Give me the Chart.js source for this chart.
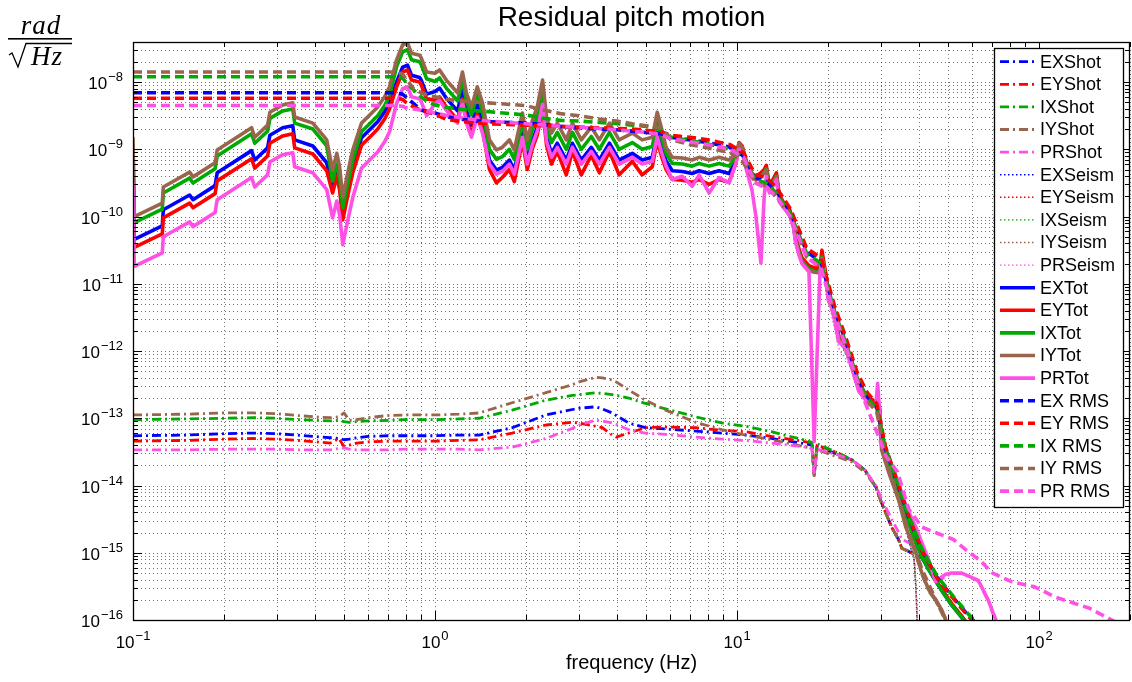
<!DOCTYPE html>
<html>
<head>
<meta charset="utf-8">
<title>Residual pitch motion</title>
<script src="https://cdn.jsdelivr.net/npm/chart.js@4.4.1/dist/chart.umd.min.js"></script>
<style>
  body { margin: 0; background: #fff; }
  canvas { display: block; }
</style>
</head>
<body>
<canvas id="pitchChart" width="1132" height="682"></canvas>
<script>
// ---- data (frequency in Hz, values in rad/sqrt(Hz)) ----
const freqTot = [0.100, 0.101, 0.125, 0.126, 0.154, 0.158, 0.187, 0.190, 0.247, 0.253,
  0.279, 0.284, 0.313, 0.338, 0.343, 0.394, 0.438, 0.458, 0.473, 0.483,
  0.495, 0.514, 0.534, 0.571, 0.617, 0.646, 0.681, 0.707, 0.746, 0.781,
  0.811, 0.836, 0.889, 0.900, 0.938, 1.00, 1.035, 1.09, 1.14, 1.187,
  1.233, 1.27, 1.32, 1.38, 1.436, 1.514, 1.597, 1.67, 1.763, 1.83,
  1.947, 2.02, 2.10, 2.18, 2.27, 2.34, 2.43, 2.54, 2.72, 2.85,
  3.05, 3.29, 3.50, 3.78, 4.07, 4.50, 4.85, 5.24, 5.44, 5.61,
  5.82, 6.10, 6.58, 7.10, 7.49, 8.08, 8.72, 9.41, 9.92, 10.15,
  10.4, 10.8, 11.2, 11.55, 12.0, 12.3, 12.5, 12.8, 13.5, 13.8,
  14.3, 14.9, 15.4, 15.6, 16.0, 16.4, 16.9, 17.3, 18.0, 18.8,
  19.1, 19.7, 20.1, 20.6, 21.2, 21.7, 22.9, 24.0, 25.3, 27.3,
  28.8, 29.2, 29.6, 30.1, 31.8, 34.3, 36.2, 39.1, 40.9, 43.1,
  45.5, 47.6, 49.1, 51.4, 55.2, 58.0, 62.9, 67.8, 71.9, 76.0];

const exTot = [6.92e-10, 4.57e-11, 7.24e-11, 1.26e-10, 2.09e-10, 1.78e-10, 2.88e-10, 4.47e-10, 9.55e-10, 6.92e-10,
  1.05e-9, 1.62e-9, 2.09e-9, 2.24e-9, 1.38e-9, 1.12e-9, 6.31e-10, 2.63e-10, 4.68e-10, 2.95e-10,
  1.05e-10, 2.4e-10, 5.25e-10, 1.48e-9, 2.09e-9, 2.57e-9, 3.63e-9, 5.13e-9, 1.0e-8, 1.66e-8,
  1.78e-8, 1.26e-8, 1.17e-8, 1.07e-8, 6.61e-9, 7.24e-9, 8.13e-9, 5.75e-9, 4.57e-9, 3.72e-9,
  7.59e-9, 3.72e-9, 2.29e-9, 4.57e-9, 2.63e-9, 6.92e-10, 4.9e-10, 5.37e-10, 6.92e-10, 4.9e-10,
  1.74e-9, 6.92e-10, 1.35e-9, 2.14e-9, 5.37e-9, 1.51e-9, 8.71e-10, 1.23e-9, 6.92e-10, 1.23e-9,
  6.92e-10, 1.07e-9, 6.92e-10, 1.23e-9, 6.92e-10, 8.71e-10, 6.92e-10, 7.59e-10, 1.78e-9, 1.07e-9,
  6.76e-10, 4.79e-10, 4.68e-10, 4.37e-10, 4.79e-10, 4.37e-10, 4.79e-10, 4.37e-10, 6.92e-10, 1.07e-9,
  9.55e-10, 5.37e-10, 3.98e-10, 3.55e-10, 4.17e-10, 4.68e-10, 5.25e-10, 2.63e-10, 4.07e-10, 1.91e-10,
  1.48e-10, 1.2e-10, 7.41e-11, 4.79e-11, 3.09e-11, 2.24e-11, 1.91e-11, 1.7e-11, 1.58e-11, 1.55e-11,
  2.57e-11, 1.23e-11, 6.17e-12, 4.79e-12, 2.82e-12, 1.55e-12, 1.23e-12, 6.17e-13, 2.82e-13, 1.82e-13,
  1.58e-13, 1.51e-13, 1.41e-13, 5.01e-14, 2.24e-14, 8.32e-15, 3.55e-15, 1.41e-15, 8.91e-16, 5.62e-16,
  3.8e-16, 2.75e-16, 2.24e-16, 1.66e-16, 1.12e-16, 8.32e-17, 5.01e-17, 3.16e-17, 2.0e-17, 1.26e-17];

const eyTot = [5.25e-10, 3.47e-11, 5.5e-11, 9.55e-11, 1.58e-10, 1.35e-10, 2.19e-10, 3.39e-10, 7.24e-10, 5.25e-10,
  7.94e-10, 1.23e-9, 1.58e-9, 1.7e-9, 1.05e-9, 8.51e-10, 4.79e-10, 2.24e-10, 3.98e-10, 2.51e-10,
  8.91e-11, 2.04e-10, 4.47e-10, 1.15e-9, 1.62e-9, 2.0e-9, 2.82e-9, 3.98e-9, 8.51e-9, 1.41e-8,
  1.51e-8, 1.07e-8, 1.0e-8, 9.12e-9, 5.62e-9, 5.37e-9, 6.03e-9, 4.27e-9, 3.39e-9, 2.75e-9,
  5.62e-9, 2.75e-9, 1.7e-9, 3.39e-9, 1.95e-9, 5.01e-10, 3.16e-10, 3.8e-10, 5.01e-10, 3.31e-10,
  1.32e-9, 5.01e-10, 1.02e-9, 1.62e-9, 4.07e-9, 1.15e-9, 6.03e-10, 9.33e-10, 4.17e-10, 9.33e-10,
  4.17e-10, 8.13e-10, 4.47e-10, 9.33e-10, 4.17e-10, 6.61e-10, 4.17e-10, 5.5e-10, 1.35e-9, 8.13e-10,
  5.01e-10, 3.55e-10, 3.47e-10, 3.24e-10, 3.55e-10, 3.02e-10, 3.55e-10, 3.24e-10, 6.31e-10, 1.26e-9,
  1.12e-9, 6.03e-10, 4.37e-10, 3.98e-10, 4.47e-10, 5.01e-10, 5.75e-10, 2.82e-10, 4.47e-10, 2.09e-10,
  1.58e-10, 1.32e-10, 8.13e-11, 5.25e-11, 3.39e-11, 2.45e-11, 2.09e-11, 1.86e-11, 1.74e-11, 1.7e-11,
  3.16e-11, 1.35e-11, 6.76e-12, 5.25e-12, 3.09e-12, 1.7e-12, 1.35e-12, 6.76e-13, 3.09e-13, 2.0e-13,
  1.74e-13, 1.66e-13, 1.51e-13, 5.25e-14, 2.4e-14, 8.91e-15, 3.8e-15, 1.51e-15, 9.55e-16, 6.03e-16,
  3.98e-16, 2.88e-16, 2.34e-16, 1.74e-16, 1.17e-16, 8.71e-17, 5.01e-17, 3.16e-17, 2.0e-17, 1.26e-17];

const ixTot = [1.23e-9, 8.13e-11, 1.29e-10, 2.24e-10, 3.72e-10, 3.16e-10, 5.13e-10, 7.94e-10, 1.7e-9, 1.23e-9,
  1.86e-9, 2.88e-9, 3.72e-9, 3.98e-9, 2.45e-9, 2.0e-9, 1.12e-9, 3.39e-10, 6.03e-10, 3.8e-10,
  1.35e-10, 3.09e-10, 6.76e-10, 1.82e-9, 2.57e-9, 3.16e-9, 4.47e-9, 6.31e-9, 1.7e-8, 2.82e-8,
  3.02e-8, 2.14e-8, 2.0e-8, 1.82e-8, 1.12e-8, 1.02e-8, 1.15e-8, 8.13e-9, 6.46e-9, 5.25e-9,
  1.07e-8, 5.25e-9, 3.24e-9, 6.46e-9, 3.72e-9, 1.0e-9, 7.08e-10, 7.76e-10, 1.0e-9, 7.08e-10,
  2.51e-9, 1.0e-9, 1.95e-9, 3.09e-9, 7.76e-9, 2.19e-9, 1.26e-9, 1.78e-9, 1.0e-9, 1.78e-9,
  1.0e-9, 1.55e-9, 1.0e-9, 1.78e-9, 1.0e-9, 1.26e-9, 1.0e-9, 1.1e-9, 2.57e-9, 1.55e-9,
  8.71e-10, 6.17e-10, 6.03e-10, 5.62e-10, 6.17e-10, 5.62e-10, 6.17e-10, 5.62e-10, 7.76e-10, 1.15e-9,
  1.0e-9, 5.5e-10, 3.98e-10, 3.55e-10, 3.98e-10, 4.57e-10, 5.13e-10, 2.57e-10, 3.98e-10, 1.86e-10,
  1.45e-10, 1.17e-10, 7.24e-11, 4.68e-11, 3.02e-11, 2.19e-11, 1.86e-11, 1.66e-11, 1.55e-11, 1.51e-11,
  2.51e-11, 1.2e-11, 6.03e-12, 4.68e-12, 2.75e-12, 1.51e-12, 1.2e-12, 6.03e-13, 2.75e-13, 1.78e-13,
  1.55e-13, 1.48e-13, 1.38e-13, 5.01e-14, 2.24e-14, 8.32e-15, 3.55e-15, 1.41e-15, 8.91e-16, 5.62e-16,
  3.8e-16, 2.75e-16, 2.24e-16, 1.66e-16, 1.12e-16, 8.32e-17, 5.01e-17, 3.16e-17, 2.0e-17, 1.26e-17];

const iyTot = [1.51e-9, 1.0e-10, 1.58e-10, 2.75e-10, 4.57e-10, 3.89e-10, 6.31e-10, 9.77e-10, 2.09e-9, 1.51e-9,
  2.29e-9, 3.55e-9, 4.57e-9, 4.9e-9, 3.02e-9, 2.45e-9, 1.38e-9, 4.9e-10, 8.71e-10, 5.5e-10,
  1.95e-10, 4.47e-10, 9.77e-10, 2.45e-9, 3.47e-9, 4.27e-9, 6.03e-9, 8.51e-9, 2.14e-8, 3.55e-8,
  3.8e-8, 2.69e-8, 2.51e-8, 2.29e-8, 1.41e-8, 1.35e-8, 1.51e-8, 1.07e-8, 8.51e-9, 6.92e-9,
  1.41e-8, 6.92e-9, 4.27e-9, 8.51e-9, 4.9e-9, 1.38e-9, 9.77e-10, 1.07e-9, 1.38e-9, 9.77e-10,
  3.47e-9, 1.38e-9, 2.69e-9, 4.27e-9, 1.07e-8, 3.02e-9, 1.74e-9, 2.45e-9, 1.38e-9, 2.45e-9,
  1.38e-9, 2.14e-9, 1.38e-9, 2.45e-9, 1.38e-9, 1.74e-9, 1.38e-9, 1.51e-9, 3.55e-9, 2.14e-9,
  1.07e-9, 7.59e-10, 7.41e-10, 6.92e-10, 7.59e-10, 6.92e-10, 7.59e-10, 6.92e-10, 8.71e-10, 1.23e-9,
  1.07e-9, 5.5e-10, 3.89e-10, 3.47e-10, 3.89e-10, 4.47e-10, 4.9e-10, 2.45e-10, 3.89e-10, 1.78e-10,
  1.38e-10, 1.12e-10, 6.92e-11, 4.47e-11, 2.88e-11, 2.09e-11, 1.78e-11, 1.58e-11, 1.48e-11, 1.45e-11,
  2.4e-11, 1.15e-11, 5.75e-12, 4.47e-12, 2.63e-12, 1.45e-12, 1.15e-12, 5.75e-13, 2.63e-13, 1.7e-13,
  1.48e-13, 1.41e-13, 1.26e-13, 3.39e-14, 1.55e-14, 6.03e-15, 2.4e-15, 1.0e-15, 5.01e-16, 2.82e-16,
  2.0e-16, 1.41e-16, 1.0e-16, 6.31e-17, 3.16e-17, 1.58e-17, 1.0e-17, 6.31e-18, 3.98e-18, 2.51e-18];

const prTot = [3.2e-10, 1.82e-11, 2.88e-11, 5.01e-11, 8.32e-11, 7.08e-11, 1.15e-10, 1.78e-10, 3.8e-10, 2.75e-10,
  4.17e-10, 6.46e-10, 8.32e-10, 8.91e-10, 5.5e-10, 4.47e-10, 2.51e-10, 9.55e-11, 1.7e-10, 1.07e-10,
  3.8e-11, 8.71e-11, 1.91e-10, 5.25e-10, 7.41e-10, 9.12e-10, 1.29e-9, 1.82e-9, 4.79e-9, 7.94e-9,
  8.51e-9, 6.03e-9, 5.62e-9, 5.13e-9, 3.16e-9, 4.79e-9, 5.37e-9, 3.8e-9, 3.02e-9, 2.45e-9,
  5.01e-9, 2.45e-9, 1.51e-9, 3.02e-9, 1.74e-9, 6.03e-10, 4.27e-10, 4.68e-10, 6.03e-10, 4.27e-10,
  1.51e-9, 6.03e-10, 1.17e-9, 1.86e-9, 4.68e-9, 1.32e-9, 7.59e-10, 1.07e-9, 6.03e-10, 1.07e-9,
  6.03e-10, 9.33e-10, 6.03e-10, 1.07e-9, 6.03e-10, 7.59e-10, 6.03e-10, 6.61e-10, 1.55e-9, 9.33e-10,
  5.62e-10, 3.55e-10, 3.98e-10, 2.82e-10, 4.17e-10, 2.24e-10, 3.8e-10, 3.16e-10, 6.31e-10, 1.0e-9,
  8.91e-10, 4.47e-10, 2.51e-10, 1.0e-10, 2.04e-11, 2.0e-10, 3.98e-10, 2.24e-10, 3.55e-10, 1.66e-10,
  1.32e-10, 1.07e-10, 6.61e-11, 4.27e-11, 2.75e-11, 2.0e-11, 1.7e-11, 1.51e-11, 4.47e-14, 1.38e-11,
  2.29e-11, 1.1e-11, 5.5e-12, 4.27e-12, 2.51e-12, 1.38e-12, 1.1e-12, 5.5e-13, 2.51e-13, 1.62e-13,
  1.48e-13, 3.31e-13, 1.38e-13, 5.62e-14, 2.51e-14, 1.05e-14, 5.01e-15, 2.4e-15, 1.41e-15, 7.76e-16,
  3.72e-16, 4.37e-16, 4.79e-16, 5.01e-16, 5.01e-16, 4.57e-16, 3.89e-16, 2.0e-16, 1.0e-16, 3.98e-17];

const freqShot = [0.1, 0.15, 0.2, 0.25, 0.3, 0.35, 0.4, 0.45, 0.48, 0.5,
  0.52, 0.55, 0.6, 0.7, 0.8, 1.0, 1.2, 1.4, 1.8, 2.33,
  2.85, 3.0, 3.4, 3.58, 3.86, 3.98, 4.38, 4.97, 5.8, 7.3,
  8.9, 10.7, 13.0, 16.9, 17.7, 18.0, 18.4, 21.7, 24.0, 26.5,
  28.8, 30.1, 32.5, 34.3, 35.1, 39.1, 40.9, 43.1, 45.5, 49.1,
  51.4, 55.2, 58.0, 62.9, 67.8, 71.9, 76];

const exShot = [5.5e-14, 5.62e-14, 5.89e-14, 6.03e-14, 5.89e-14, 5.62e-14, 5.37e-14, 5.13e-14, 5.01e-14, 4.79e-14,
  4.9e-14, 5.13e-14, 5.37e-14, 5.5e-14, 5.5e-14, 5.5e-14, 5.62e-14, 5.62e-14, 7.24e-14, 1.12e-13,
  1.35e-13, 1.41e-13, 1.48e-13, 1.38e-13, 1.2e-13, 1.1e-13, 8.51e-14, 7.24e-14, 6.92e-14, 6.46e-14,
  6.03e-14, 5.62e-14, 5.01e-14, 4.17e-14, 3.98e-14, 1.41e-14, 3.8e-14, 2.88e-14, 2.4e-14, 1.7e-14,
  9.55e-15, 5.5e-15, 2.4e-15, 1.55e-15, 1.17e-15, 9.33e-16, 8.32e-16, 5.62e-16, 3.8e-16, 2.4e-16,
  1.74e-16, 1.17e-16, 8.71e-17, 5.01e-17];

const eyShot = [4.57e-14, 4.68e-14, 4.9e-14, 5.01e-14, 4.9e-14, 4.68e-14, 4.47e-14, 4.27e-14, 5.01e-14, 3.8e-14,
  3.98e-14, 4.27e-14, 4.47e-14, 4.57e-14, 4.57e-14, 4.57e-14, 4.68e-14, 4.79e-14, 6.03e-14, 7.94e-14,
  8.71e-14, 8.51e-14, 7.59e-14, 7.24e-14, 5.62e-14, 5.25e-14, 6.03e-14, 7.24e-14, 7.41e-14, 7.24e-14,
  6.61e-14, 6.31e-14, 5.37e-14, 4.47e-14, 4.27e-14, 1.41e-14, 3.98e-14, 3.02e-14, 2.4e-14, 1.7e-14,
  9.55e-15, 5.5e-15, 2.4e-15, 1.55e-15, 1.17e-15, 9.33e-16, 8.32e-16, 5.62e-16, 3.8e-16, 2.4e-16,
  1.74e-16, 1.17e-16, 8.71e-17, 5.01e-17];

const ixShot = [9.55e-14, 9.77e-14, 1.0e-13, 1.02e-13, 1.0e-13, 9.55e-14, 9.33e-14, 9.12e-14, 9.33e-14, 8.91e-14,
  8.71e-14, 8.91e-14, 9.12e-14, 9.33e-14, 9.55e-14, 9.55e-14, 9.77e-14, 1.0e-13, 1.32e-13, 1.86e-13,
  2.19e-13, 2.24e-13, 2.4e-13, 2.34e-13, 2.24e-13, 2.19e-13, 2.0e-13, 1.66e-13, 1.38e-13, 1.05e-13,
  8.51e-14, 7.59e-14, 6.31e-14, 4.68e-14, 4.37e-14, 1.41e-14, 4.17e-14, 3.02e-14, 2.4e-14, 1.7e-14,
  9.55e-15, 5.5e-15, 2.4e-15, 1.55e-15, 1.17e-15, 9.33e-16, 8.32e-16, 5.62e-16, 3.8e-16, 2.4e-16,
  1.74e-16, 1.17e-16, 8.71e-17, 5.01e-17];

const iyShot = [1.12e-13, 1.15e-13, 1.2e-13, 1.2e-13, 1.17e-13, 1.1e-13, 1.05e-13, 1.02e-13, 1.05e-13, 1.2e-13,
  9.33e-14, 9.55e-14, 1.02e-13, 1.1e-13, 1.12e-13, 1.12e-13, 1.15e-13, 1.2e-13, 1.7e-13, 2.4e-13,
  3.16e-13, 3.47e-13, 4.07e-13, 3.98e-13, 3.72e-13, 3.47e-13, 2.63e-13, 1.86e-13, 1.32e-13, 8.71e-14,
  6.76e-14, 5.62e-14, 4.79e-14, 3.72e-14, 3.55e-14, 1.41e-14, 3.39e-14, 2.63e-14, 2.24e-14, 1.58e-14,
  9.55e-15, 5.5e-15, 2.4e-15, 1.55e-15, 1.17e-15, 9.33e-16, 4.79e-16, 2.69e-16, 1.91e-16, 9.55e-17,
  6.31e-17];

const prShot = [3.39e-14, 3.39e-14, 3.47e-14, 3.47e-14, 3.47e-14, 3.39e-14, 3.39e-14, 3.39e-14, 3.55e-14, 3.63e-14,
  3.47e-14, 3.39e-14, 3.39e-14, 3.39e-14, 3.47e-14, 3.47e-14, 3.47e-14, 3.39e-14, 3.72e-14, 5.01e-14,
  7.08e-14, 7.94e-14, 9.33e-14, 9.12e-14, 8.51e-14, 8.13e-14, 6.76e-14, 6.03e-14, 5.75e-14, 5.25e-14,
  4.9e-14, 4.68e-14, 4.27e-14, 3.72e-14, 3.55e-14, 1.41e-14, 3.47e-14, 2.82e-14, 2.4e-14, 1.7e-14,
  1.0e-14, 6.31e-15, 3.16e-15, 2.0e-15, 1.58e-15, 1.26e-15, 1.0e-15, 7.08e-16, 3.55e-16, 4.47e-16,
  4.9e-16, 4.9e-16, 4.47e-16, 3.8e-16, 1.91e-16, 9.55e-17, 3.98e-17];

const freqSeism = [20.1, 21.7, 24.0, 25.3, 27.3, 28.8, 29.6, 30.1, 31.8, 34.3, 35.5, 37.0, 38.0, 38.6, 39.2, 39.8];
const exSeism = [6.17e-12, 1.55e-12, 6.17e-13, 2.82e-13, 1.82e-13, 1.58e-13, 1.41e-13, 5.01e-14, 2.24e-14, 7.08e-15, 3.55e-15, 1.58e-15, 1.0e-15, 7.94e-16, 2.24e-16, 2.51e-17];
const eySeism = [6.76e-12, 1.7e-12, 6.76e-13, 3.09e-13, 2.0e-13, 1.74e-13, 1.51e-13, 5.25e-14, 2.4e-14, 7.59e-15, 3.8e-15, 1.66e-15, 1.05e-15, 7.94e-16, 2.82e-16, 3.98e-17];
const ixSeism = [6.03e-12, 1.51e-12, 6.03e-13, 2.75e-13, 1.78e-13, 1.55e-13, 1.38e-13, 5.01e-14, 2.24e-14, 7.08e-15, 3.55e-15, 1.58e-15, 1.0e-15, 7.94e-16, 2.51e-16, 3.16e-17];
const iySeism = [5.75e-12, 1.45e-12, 5.75e-13, 2.63e-13, 1.7e-13, 1.48e-13, 1.26e-13, 3.39e-14, 1.55e-14, 5.62e-15, 3.16e-15, 1.66e-15, 1.05e-15, 8.32e-16, 2.51e-16, 3.16e-17];
const prSeism = [5.5e-12, 1.1e-12, 5.5e-13, 2.51e-13, 1.62e-13, 1.48e-13, 1.38e-13, 5.01e-14, 2.24e-14, 7.08e-15, 3.55e-15, 1.58e-15, 1.0e-15, 7.94e-16, 2.51e-16, 3.16e-17];

const freqRms = [0.1, 0.74, 0.78, 0.80, 0.85, 0.90, 0.95, 1.0, 1.1, 1.3,
  1.5, 2.0, 2.3, 2.6, 3.0, 3.5, 4.0, 4.5, 5.0, 5.6,
  6.0, 7.0, 8.0, 9.5, 10.5, 11.5, 12.5, 13.5, 15, 17,
  19, 21, 23, 25, 27, 29, 31, 34, 37, 41,
  46, 52, 58, 64, 70, 81, 97, 113, 146, 174, 190];

const exRms = [6.92e-9, 6.92e-9, 6.61e-9, 6.03e-9, 4.79e-9, 3.8e-9, 3.63e-9, 3.47e-9, 3.02e-9, 2.69e-9,
  2.57e-9, 2.45e-9, 2.34e-9, 2.19e-9, 2.09e-9, 2.0e-9, 1.95e-9, 1.86e-9, 1.78e-9, 1.7e-9,
  1.51e-9, 1.38e-9, 1.26e-9, 1.07e-9, 7.94e-10, 3.8e-10, 3.31e-10, 2.4e-10, 1.17e-10, 3.02e-11,
  2.09e-11, 4.17e-12, 1.32e-12, 4.17e-13, 2.09e-13, 1.48e-13, 3.55e-14, 1.07e-14, 3.39e-15, 1.07e-15,
  4.27e-16, 2.14e-16, 1.2e-16, 7.59e-17];

const eyRms = [5.75e-9, 5.75e-9, 5.5e-9, 5.01e-9, 4.27e-9, 3.8e-9, 3.55e-9, 3.31e-9, 2.75e-9, 2.51e-9,
  2.4e-9, 2.29e-9, 2.24e-9, 2.19e-9, 2.14e-9, 2.09e-9, 2.04e-9, 2.0e-9, 1.91e-9, 1.82e-9,
  1.62e-9, 1.51e-9, 1.38e-9, 1.17e-9, 8.91e-10, 4.17e-10, 3.8e-10, 2.69e-10, 1.32e-10, 3.39e-11,
  2.4e-11, 4.79e-12, 1.51e-12, 4.79e-13, 2.4e-13, 1.66e-13, 3.8e-14, 1.12e-14, 3.55e-15, 1.07e-15,
  4.17e-16, 2.09e-16, 1.17e-16, 7.41e-17];

const ixRms = [1.2e-8, 1.2e-8, 1.15e-8, 1.0e-8, 7.59e-9, 6.03e-9, 5.01e-9, 4.57e-9, 4.17e-9, 3.8e-9,
  3.63e-9, 3.24e-9, 2.88e-9, 2.69e-9, 2.63e-9, 2.51e-9, 2.4e-9, 2.29e-9, 2.19e-9, 2.0e-9,
  1.51e-9, 1.35e-9, 1.2e-9, 1.0e-9, 7.59e-10, 3.55e-10, 3.16e-10, 2.24e-10, 1.12e-10, 2.82e-11,
  2.0e-11, 3.98e-12, 1.26e-12, 3.98e-13, 2.0e-13, 1.41e-13, 3.55e-14, 1.12e-14, 3.55e-15, 1.12e-15,
  4.47e-16, 2.24e-16, 1.26e-16, 7.94e-17];

const iyRms = [1.41e-8, 1.41e-8, 1.32e-8, 1.12e-8, 7.94e-9, 6.92e-9, 6.31e-9, 6.03e-9, 5.5e-9, 5.13e-9,
  4.9e-9, 4.47e-9, 3.8e-9, 3.39e-9, 3.16e-9, 2.82e-9, 2.63e-9, 2.4e-9, 2.24e-9, 2.09e-9,
  1.41e-9, 1.17e-9, 1.05e-9, 8.91e-10, 6.31e-10, 3.16e-10, 2.82e-10, 2.0e-10, 1.0e-10, 2.51e-11,
  1.78e-11, 3.55e-12, 1.12e-12, 3.55e-13, 1.78e-13, 1.26e-13, 2.51e-14, 7.08e-15, 2.0e-15, 5.62e-16,
  1.78e-16, 6.31e-17];

const prRms = [4.47e-9, 4.47e-9, 4.37e-9, 4.17e-9, 3.98e-9, 3.8e-9, 3.63e-9, 3.47e-9, 3.16e-9, 2.82e-9,
  2.63e-9, 2.4e-9, 2.29e-9, 2.19e-9, 2.14e-9, 2.04e-9, 1.95e-9, 1.86e-9, 1.78e-9, 1.66e-9,
  1.45e-9, 1.29e-9, 1.17e-9, 1.0e-9, 7.59e-10, 3.16e-10, 2.63e-10, 2.0e-10, 1.0e-10, 2.51e-11,
  1.66e-11, 3.55e-12, 1.12e-12, 3.55e-13, 1.41e-13, 6.31e-14, 2.82e-14, 1.58e-14, 4.47e-15, 2.4e-15,
  1.95e-15, 1.58e-15, 1.05e-15, 7.59e-16, 5.01e-16, 3.72e-16, 3.09e-16, 2.19e-16, 1.51e-16, 1.0e-16, 7.94e-17];

// axis ticks
const xMajor = [0.1, 1, 10, 100];
const xMajorExp = [-1, 0, 1, 2];
const yMajorExp = [-16, -15, -14, -13, -12, -11, -10, -9, -8];

// ---- styling ----
const colors = {
  EX: 'rgb(0,0,255)',
  EY: 'rgb(255,0,0)',
  IX: 'rgb(0,170,0)',
  IY: 'rgb(153,102,77)',
  PR: 'rgb(255,80,230)'
};
const lineStyles = {
  Shot:  { width: 2.8, dash: [9, 4, 2, 4] },
  Seism: { width: 1.4, dash: [1.5, 2.5] },
  Tot:   { width: 3.6, dash: [] },
  RMS:   { width: 3.6, dash: [9, 5] }
};

const seriesList = [
  ['EXShot', freqShot, exShot, 'EX', 'Shot'],
  ['EYShot', freqShot, eyShot, 'EY', 'Shot'],
  ['IXShot', freqShot, ixShot, 'IX', 'Shot'],
  ['IYShot', freqShot, iyShot, 'IY', 'Shot'],
  ['PRShot', freqShot, prShot, 'PR', 'Shot'],
  ['EXSeism', freqSeism, exSeism, 'EX', 'Seism'],
  ['EYSeism', freqSeism, eySeism, 'EY', 'Seism'],
  ['IXSeism', freqSeism, ixSeism, 'IX', 'Seism'],
  ['IYSeism', freqSeism, iySeism, 'IY', 'Seism'],
  ['PRSeism', freqSeism, prSeism, 'PR', 'Seism'],
  ['EXTot', freqTot, exTot, 'EX', 'Tot'],
  ['EYTot', freqTot, eyTot, 'EY', 'Tot'],
  ['IXTot', freqTot, ixTot, 'IX', 'Tot'],
  ['IYTot', freqTot, iyTot, 'IY', 'Tot'],
  ['PRTot', freqTot, prTot, 'PR', 'Tot'],
  ['EX RMS', freqRms, exRms, 'EX', 'RMS'],
  ['EY RMS', freqRms, eyRms, 'EY', 'RMS'],
  ['IX RMS', freqRms, ixRms, 'IX', 'RMS'],
  ['IY RMS', freqRms, iyRms, 'IY', 'RMS'],
  ['PR RMS', freqRms, prRms, 'PR', 'RMS']
];

const datasets = seriesList.map(([label, freq, vals, c, kind], i) => ({
  label: label,
  data: vals.map((v, k) => ({ x: freq[k], y: v })),
  borderColor: colors[c],
  borderWidth: lineStyles[kind].width,
  borderDash: lineStyles[kind].dash,
  borderCapStyle: 'butt',
  borderJoinStyle: 'round',
  pointRadius: 0,
  fill: false,
  tension: 0,
  clip: 0,
  order: seriesList.length - i
}));

const SANS = '"Liberation Sans", Arial, Helvetica, sans-serif';
const SERIF = '"Liberation Serif", "DejaVu Serif", serif';

function drawPow(ctx, exp, x, yBase, align) {
  const es = String(exp).replace('-', '\u2212');
  ctx.font = '17px ' + SANS;
  const wb = ctx.measureText('10').width;
  ctx.font = '13px ' + SANS;
  const we = ctx.measureText(es).width;
  const x0 = align === 'center' ? x - (wb + we + 1) / 2 : x - wb - we - 1;
  ctx.textAlign = 'left';
  ctx.textBaseline = 'alphabetic';
  ctx.font = '17px ' + SANS;
  ctx.fillText('10', x0, yBase);
  ctx.font = '13px ' + SANS;
  ctx.fillText(es, x0 + wb + 1, yBase - 8);
}

function gridValues(lo, hi) {
  const out = [];
  for (let e = Math.floor(Math.log10(lo)); e <= Math.ceil(Math.log10(hi)); e++) {
    for (let m = 1; m <= 9; m++) {
      const v = m * Math.pow(10, e);
      if (v >= lo * 0.999 && v <= hi * 1.001) out.push({ v: v, major: m === 1 });
    }
  }
  return out;
}

const matlabLook = {
  id: 'matlabLook',
  beforeDraw(chart) {
    const ctx = chart.ctx;
    ctx.save();
    ctx.fillStyle = '#fff';
    ctx.fillRect(0, 0, chart.width, chart.height);
    ctx.restore();
  },
  beforeDatasetsDraw(chart) {
    const ctx = chart.ctx, a = chart.chartArea;
    const xs = chart.scales.x, ys = chart.scales.y;
    ctx.save();
    ctx.strokeStyle = 'rgba(0,0,0,0.55)';
    ctx.lineWidth = 1;
    ctx.setLineDash([1, 3]);
    ctx.beginPath();
    gridValues(xs.min, xs.max).forEach(g => {
      const px = Math.round(xs.getPixelForValue(g.v)) + 0.5;
      ctx.moveTo(px, a.top); ctx.lineTo(px, a.bottom);
    });
    gridValues(ys.min, ys.max).forEach(g => {
      const py = Math.round(ys.getPixelForValue(g.v)) + 0.5;
      ctx.moveTo(a.left, py); ctx.lineTo(a.right, py);
    });
    ctx.stroke();
    ctx.restore();
  },
  afterDraw(chart) {
    const ctx = chart.ctx, a = chart.chartArea;
    const xs = chart.scales.x, ys = chart.scales.y;
    ctx.save();
    ctx.setLineDash([]);
    ctx.strokeStyle = '#000';
    ctx.fillStyle = '#000';
    ctx.lineWidth = 1;

    // ticks on all four sides, pointing inward
    ctx.beginPath();
    gridValues(xs.min, xs.max).forEach(g => {
      const px = Math.round(xs.getPixelForValue(g.v)) + 0.5;
      const len = g.major ? 9 : 5;
      ctx.moveTo(px, a.bottom); ctx.lineTo(px, a.bottom - len);
      ctx.moveTo(px, a.top); ctx.lineTo(px, a.top + len);
    });
    gridValues(ys.min, ys.max).forEach(g => {
      const py = Math.round(ys.getPixelForValue(g.v)) + 0.5;
      const len = g.major ? 9 : 5;
      ctx.moveTo(a.left, py); ctx.lineTo(a.left + len, py);
      ctx.moveTo(a.right, py); ctx.lineTo(a.right - len, py);
    });
    ctx.stroke();

    // axes box
    ctx.lineWidth = 1.3;
    ctx.strokeRect(Math.round(a.left) + 0.5, Math.round(a.top) + 0.5,
      Math.round(a.right - a.left) - 1, Math.round(a.bottom - a.top));

    // tick labels
    xMajor.forEach((v, i) => {
      drawPow(ctx, xMajorExp[i], xs.getPixelForValue(v), 648, 'center');
    });
    yMajorExp.forEach(e => {
      drawPow(ctx, e, 123, ys.getPixelForValue(Math.pow(10, e)) + 7, 'right');
    });

    // title and x label
    ctx.textAlign = 'center';
    ctx.textBaseline = 'alphabetic';
    ctx.font = '28px ' + SANS;
    ctx.fillText('Residual pitch motion', (a.left + a.right) / 2, 26);
    ctx.font = '20px ' + SANS;
    ctx.fillText('frequency (Hz)', (a.left + a.right) / 2, 669);

    // y label: rad / sqrt(Hz)
    ctx.font = 'italic 27px ' + SERIF;
    ctx.letterSpacing = '1px';
    ctx.fillText('rad', 41, 34);
    ctx.fillRect(8, 38, 64, 1.6);
    ctx.fillText('Hz', 47, 65);
    ctx.letterSpacing = '0px';
    ctx.lineWidth = 1.3;
    ctx.beginPath();
    ctx.moveTo(9, 55); ctx.lineTo(12, 53); ctx.lineTo(18, 67); ctx.lineTo(26, 43.5); ctx.lineTo(72, 43.5);
    ctx.stroke();

    // legend
    const lx = 994.5, ly = 48.5, lw = 129, lh = 459;
    ctx.fillStyle = '#fff';
    ctx.fillRect(lx, ly, lw, lh);
    ctx.strokeStyle = '#000';
    ctx.lineWidth = 1.3;
    ctx.strokeRect(lx, ly, lw, lh);
    chart.data.datasets.forEach((ds, i) => {
      const y = 61.7 + i * 22.6;
      ctx.save();
      ctx.strokeStyle = ds.borderColor;
      ctx.lineWidth = ds.borderWidth;
      ctx.setLineDash(ds.borderDash);
      ctx.lineCap = 'butt';
      ctx.beginPath();
      ctx.moveTo(1000, y); ctx.lineTo(1035, y);
      ctx.stroke();
      ctx.restore();
      ctx.fillStyle = '#000';
      ctx.font = '18px ' + SANS;
      ctx.textAlign = 'left';
      ctx.textBaseline = 'middle';
      ctx.fillText(ds.label, 1040, y + 1);
    });
    ctx.restore();
  }
};

new Chart(document.getElementById('pitchChart'), {
  type: 'line',
  data: { datasets: datasets },
  options: {
    responsive: false,
    animation: false,
    events: [],
    layout: { padding: { left: 133, right: 2, top: 42, bottom: 62 } },
    plugins: {
      legend: { display: false },
      title: { display: false },
      tooltip: { enabled: false }
    },
    scales: {
      x: { type: 'logarithmic', min: 0.1, max: 200, display: false },
      y: { type: 'logarithmic', min: 1e-16, max: 3.94e-8, display: false }
    }
  },
  plugins: [matlabLook]
});
</script>
</body>
</html>
